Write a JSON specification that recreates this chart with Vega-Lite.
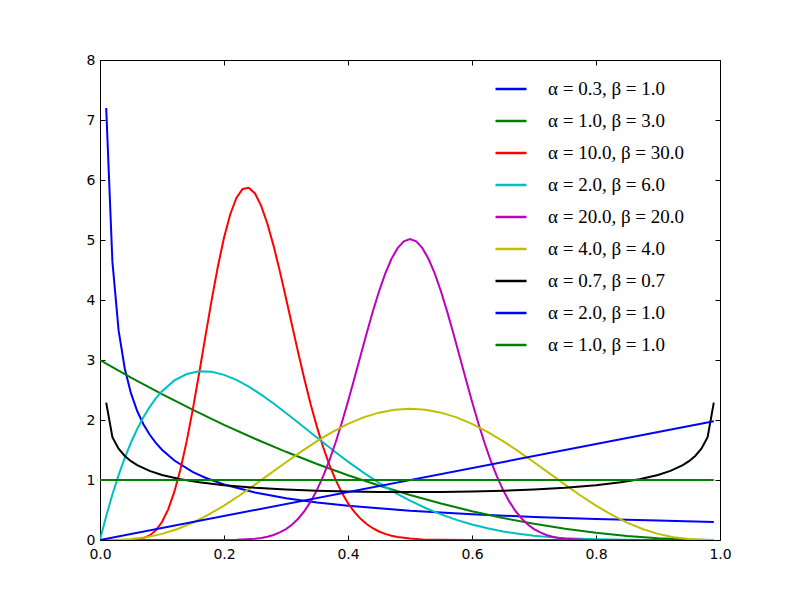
{
"$schema": "https://vega.github.io/schema/vega-lite/v6.json",
"width": 620, "height": 480,
"autosize": {"type": "none"},
"padding": {"left": 100, "top": 60, "right": 80, "bottom": 60},
"background": "white",
"config": {
 "view": {"stroke": "#000", "strokeWidth": 1},
 "axis": {"grid": false, "domain": false, "tickColor": "#000", "tickSize": -5, "labelPadding": 10, "labelFont": "DejaVu Sans", "labelFontSize": 14, "labelColor": "#000", "labelFlush": false, "title": null}
},
"data": {"values": [
{"k":0,"x":0.01,"y":7.2},{"k":0,"x":0.02,"y":4.639},{"k":0,"x":0.03,"y":3.493},{"k":0,"x":0.04,"y":2.855},{"k":0,"x":0.05,"y":2.443},{"k":0,"x":0.06,"y":2.15},{"k":0,"x":0.07,"y":1.93},{"k":0,"x":0.08,"y":1.758},{"k":0,"x":0.09,"y":1.619},{"k":0,"x":0.1,"y":1.504},{"k":0,"x":0.12,"y":1.324},{"k":0,"x":0.15,"y":1.132},{"k":0,"x":0.17,"y":1.037},{"k":0,"x":0.2,"y":0.926},{"k":0,"x":0.25,"y":0.792},{"k":0,"x":0.3,"y":0.697},{"k":0,"x":0.35,"y":0.626},{"k":0,"x":0.4,"y":0.57},{"k":0,"x":0.5,"y":0.487},{"k":0,"x":0.6,"y":0.429},{"k":0,"x":0.7,"y":0.385},{"k":0,"x":0.8,"y":0.351},{"k":0,"x":0.9,"y":0.323},{"k":0,"x":0.99,"y":0.302},
{"k":1,"x":0,"y":3},{"k":1,"x":0.05,"y":2.7075},{"k":1,"x":0.1,"y":2.43},{"k":1,"x":0.15,"y":2.1675},{"k":1,"x":0.2,"y":1.92},{"k":1,"x":0.25,"y":1.6875},{"k":1,"x":0.3,"y":1.47},{"k":1,"x":0.35,"y":1.2675},{"k":1,"x":0.4,"y":1.08},{"k":1,"x":0.45,"y":0.9075},{"k":1,"x":0.5,"y":0.75},{"k":1,"x":0.55,"y":0.6075},{"k":1,"x":0.6,"y":0.48},{"k":1,"x":0.65,"y":0.3675},{"k":1,"x":0.7,"y":0.27},{"k":1,"x":0.75,"y":0.1875},{"k":1,"x":0.8,"y":0.12},{"k":1,"x":0.85,"y":0.0675},{"k":1,"x":0.9,"y":0.03},{"k":1,"x":0.95,"y":0.0075},{"k":1,"x":0.99,"y":0.0003},
{"k":2,"x":0,"y":0},{"k":2,"x":0.02,"y":0},{"k":2,"x":0.03,"y":0.0001},{"k":2,"x":0.04,"y":0.0005},{"k":2,"x":0.05,"y":0.0028},{"k":2,"x":0.06,"y":0.0107},{"k":2,"x":0.07,"y":0.0313},{"k":2,"x":0.08,"y":0.076},{"k":2,"x":0.09,"y":0.1598},{"k":2,"x":0.1,"y":0.2995},{"k":2,"x":0.11,"y":0.5107},{"k":2,"x":0.12,"y":0.8053},{"k":2,"x":0.13,"y":1.1882},{"k":2,"x":0.14,"y":1.6555},{"k":2,"x":0.15,"y":2.194},{"k":2,"x":0.16,"y":2.7829},{"k":2,"x":0.17,"y":3.3929},{"k":2,"x":0.18,"y":3.9931},{"k":2,"x":0.19,"y":4.5513},{"k":2,"x":0.2,"y":5.0371},{"k":2,"x":0.21,"y":5.4256},{"k":2,"x":0.22,"y":5.6997},{"k":2,"x":0.23,"y":5.8497},{"k":2,"x":0.24,"y":5.8709},{"k":2,"x":0.25,"y":5.7754},{"k":2,"x":0.26,"y":5.5684},{"k":2,"x":0.27,"y":5.2714},{"k":2,"x":0.28,"y":4.9022},{"k":2,"x":0.29,"y":4.4812},{"k":2,"x":0.3,"y":4.0301},{"k":2,"x":0.31,"y":3.5665},{"k":2,"x":0.32,"y":3.1076},{"k":2,"x":0.33,"y":2.6674},{"k":2,"x":0.34,"y":2.2558},{"k":2,"x":0.35,"y":1.8812},{"k":2,"x":0.36,"y":1.5459},{"k":2,"x":0.37,"y":1.2528},{"k":2,"x":0.38,"y":1.0015},{"k":2,"x":0.39,"y":0.7895},{"k":2,"x":0.4,"y":0.614},{"k":2,"x":0.41,"y":0.4711},{"k":2,"x":0.42,"y":0.3564},{"k":2,"x":0.43,"y":0.266},{"k":2,"x":0.44,"y":0.1958},{"k":2,"x":0.45,"y":0.1421},{"k":2,"x":0.46,"y":0.1017},{"k":2,"x":0.47,"y":0.0718},{"k":2,"x":0.48,"y":0.05},{"k":2,"x":0.5,"y":0.0231},{"k":2,"x":0.52,"y":0.0101},{"k":2,"x":0.55,"y":0.0026},{"k":2,"x":0.6,"y":0.0002},{"k":2,"x":0.7,"y":0},{"k":2,"x":0.99,"y":0},
{"k":3,"x":0,"y":0},{"k":3,"x":0.01,"y":0.3994},{"k":3,"x":0.02,"y":0.7593},{"k":3,"x":0.03,"y":1.082},{"k":3,"x":0.04,"y":1.3698},{"k":3,"x":0.05,"y":1.6249},{"k":3,"x":0.06,"y":1.8494},{"k":3,"x":0.07,"y":2.0453},{"k":3,"x":0.08,"y":2.2145},{"k":3,"x":0.09,"y":2.3588},{"k":3,"x":0.1,"y":2.4801},{"k":3,"x":0.12,"y":2.6598},{"k":3,"x":0.14,"y":2.7661},{"k":3,"x":0.16,"y":2.8104},{"k":3,"x":0.18,"y":2.8028},{"k":3,"x":0.2,"y":2.7525},{"k":3,"x":0.22,"y":2.6678},{"k":3,"x":0.24,"y":2.5558},{"k":3,"x":0.26,"y":2.4231},{"k":3,"x":0.28,"y":2.2754},{"k":3,"x":0.3,"y":2.1177},{"k":3,"x":0.32,"y":1.954},{"k":3,"x":0.34,"y":1.7883},{"k":3,"x":0.36,"y":1.6235},{"k":3,"x":0.38,"y":1.4621},{"k":3,"x":0.4,"y":1.3064},{"k":3,"x":0.425,"y":1.122},{"k":3,"x":0.45,"y":0.9512},{"k":3,"x":0.475,"y":0.7957},{"k":3,"x":0.5,"y":0.6563},{"k":3,"x":0.525,"y":0.5332},{"k":3,"x":0.55,"y":0.4263},{"k":3,"x":0.575,"y":0.3349},{"k":3,"x":0.6,"y":0.258},{"k":3,"x":0.625,"y":0.1947},{"k":3,"x":0.65,"y":0.1434},{"k":3,"x":0.675,"y":0.1028},{"k":3,"x":0.7,"y":0.0714},{"k":3,"x":0.725,"y":0.0479},{"k":3,"x":0.75,"y":0.0308},{"k":3,"x":0.775,"y":0.0188},{"k":3,"x":0.8,"y":0.0108},{"k":3,"x":0.85,"y":0.0027},{"k":3,"x":0.9,"y":0.0004},{"k":3,"x":0.99,"y":0},
{"k":4,"x":0,"y":0},{"k":4,"x":0.15,"y":0},{"k":4,"x":0.2,"y":0.001},{"k":4,"x":0.22,"y":0.0039},{"k":4,"x":0.25,"y":0.0212},{"k":4,"x":0.26,"y":0.0346},{"k":4,"x":0.27,"y":0.0548},{"k":4,"x":0.28,"y":0.0841},{"k":4,"x":0.29,"y":0.1256},{"k":4,"x":0.3,"y":0.1826},{"k":4,"x":0.31,"y":0.2591},{"k":4,"x":0.32,"y":0.3589},{"k":4,"x":0.33,"y":0.4859},{"k":4,"x":0.34,"y":0.6438},{"k":4,"x":0.35,"y":0.8358},{"k":4,"x":0.36,"y":1.063},{"k":4,"x":0.37,"y":1.3265},{"k":4,"x":0.38,"y":1.6245},{"k":4,"x":0.39,"y":1.9536},{"k":4,"x":0.4,"y":2.3087},{"k":4,"x":0.41,"y":2.6821},{"k":4,"x":0.42,"y":3.0637},{"k":4,"x":0.43,"y":3.4428},{"k":4,"x":0.44,"y":3.8067},{"k":4,"x":0.45,"y":4.1423},{"k":4,"x":0.46,"y":4.4381},{"k":4,"x":0.47,"y":4.6825},{"k":4,"x":0.48,"y":4.8638},{"k":4,"x":0.49,"y":4.977},{"k":4,"x":0.5,"y":5.015},{"k":4,"x":0.51,"y":4.977},{"k":4,"x":0.52,"y":4.8638},{"k":4,"x":0.53,"y":4.6825},{"k":4,"x":0.54,"y":4.4381},{"k":4,"x":0.55,"y":4.1423},{"k":4,"x":0.56,"y":3.8067},{"k":4,"x":0.57,"y":3.4428},{"k":4,"x":0.58,"y":3.0637},{"k":4,"x":0.59,"y":2.6821},{"k":4,"x":0.6,"y":2.3087},{"k":4,"x":0.61,"y":1.9536},{"k":4,"x":0.62,"y":1.6245},{"k":4,"x":0.63,"y":1.3265},{"k":4,"x":0.64,"y":1.063},{"k":4,"x":0.65,"y":0.8358},{"k":4,"x":0.66,"y":0.6438},{"k":4,"x":0.67,"y":0.4859},{"k":4,"x":0.68,"y":0.3589},{"k":4,"x":0.69,"y":0.2591},{"k":4,"x":0.7,"y":0.1826},{"k":4,"x":0.71,"y":0.1256},{"k":4,"x":0.72,"y":0.0841},{"k":4,"x":0.73,"y":0.0548},{"k":4,"x":0.74,"y":0.0346},{"k":4,"x":0.75,"y":0.0212},{"k":4,"x":0.78,"y":0.0039},{"k":4,"x":0.8,"y":0.001},{"k":4,"x":0.85,"y":0},{"k":4,"x":0.99,"y":0},
{"k":5,"x":0,"y":0},{"k":5,"x":0.025,"y":0.002},{"k":5,"x":0.05,"y":0.015},{"k":5,"x":0.075,"y":0.0467},{"k":5,"x":0.1,"y":0.1021},{"k":5,"x":0.125,"y":0.1832},{"k":5,"x":0.15,"y":0.2902},{"k":5,"x":0.175,"y":0.4213},{"k":5,"x":0.2,"y":0.5734},{"k":5,"x":0.225,"y":0.7423},{"k":5,"x":0.25,"y":0.9229},{"k":5,"x":0.275,"y":1.1095},{"k":5,"x":0.3,"y":1.2965},{"k":5,"x":0.325,"y":1.478},{"k":5,"x":0.35,"y":1.6484},{"k":5,"x":0.375,"y":1.8025},{"k":5,"x":0.4,"y":1.9354},{"k":5,"x":0.425,"y":2.0432},{"k":5,"x":0.45,"y":2.1225},{"k":5,"x":0.475,"y":2.1711},{"k":5,"x":0.5,"y":2.1875},{"k":5,"x":0.525,"y":2.1711},{"k":5,"x":0.55,"y":2.1225},{"k":5,"x":0.575,"y":2.0432},{"k":5,"x":0.6,"y":1.9354},{"k":5,"x":0.625,"y":1.8025},{"k":5,"x":0.65,"y":1.6484},{"k":5,"x":0.675,"y":1.478},{"k":5,"x":0.7,"y":1.2965},{"k":5,"x":0.725,"y":1.1095},{"k":5,"x":0.75,"y":0.9229},{"k":5,"x":0.775,"y":0.7423},{"k":5,"x":0.8,"y":0.5734},{"k":5,"x":0.825,"y":0.4213},{"k":5,"x":0.85,"y":0.2902},{"k":5,"x":0.875,"y":0.1832},{"k":5,"x":0.9,"y":0.1021},{"k":5,"x":0.925,"y":0.0467},{"k":5,"x":0.95,"y":0.015},{"k":5,"x":0.975,"y":0.002},{"k":5,"x":0.99,"y":0.0001},
{"k":6,"x":0.01,"y":2.29},{"k":6,"x":0.02,"y":1.7131},{"k":6,"x":0.03,"y":1.5216},{"k":6,"x":0.04,"y":1.4002},{"k":6,"x":0.05,"y":1.3136},{"k":6,"x":0.06,"y":1.2476},{"k":6,"x":0.08,"y":1.1519},{"k":6,"x":0.1,"y":1.0844},{"k":6,"x":0.13,"y":1.0126},{"k":6,"x":0.16,"y":0.9615},{"k":6,"x":0.2,"y":0.9125},{"k":6,"x":0.25,"y":0.8701},{"k":6,"x":0.3,"y":0.841},{"k":6,"x":0.35,"y":0.8211},{"k":6,"x":0.4,"y":0.808},{"k":6,"x":0.45,"y":0.8006},{"k":6,"x":0.5,"y":0.7981},{"k":6,"x":0.55,"y":0.8006},{"k":6,"x":0.6,"y":0.808},{"k":6,"x":0.65,"y":0.8211},{"k":6,"x":0.7,"y":0.841},{"k":6,"x":0.75,"y":0.8701},{"k":6,"x":0.8,"y":0.9125},{"k":6,"x":0.84,"y":0.9615},{"k":6,"x":0.87,"y":1.0126},{"k":6,"x":0.9,"y":1.0844},{"k":6,"x":0.92,"y":1.1519},{"k":6,"x":0.94,"y":1.2476},{"k":6,"x":0.95,"y":1.3136},{"k":6,"x":0.96,"y":1.4002},{"k":6,"x":0.97,"y":1.5216},{"k":6,"x":0.98,"y":1.7131},{"k":6,"x":0.99,"y":2.29},
{"k":7,"x":0,"y":0},{"k":7,"x":0.99,"y":1.98},
{"k":8,"x":0,"y":1},{"k":8,"x":0.99,"y":1}
]},
"layer": [
 {
  "mark": {"type": "line", "strokeWidth": 2, "clip": true},
  "encoding": {
   "x": {"field": "x", "type": "quantitative", "scale": {"domain": [0, 1]}, "axis": {"orient": "bottom", "values": [0, 0.2, 0.4, 0.6, 0.8, 1], "format": ".1f", "labelPadding": 12}},
   "y": {"field": "y", "type": "quantitative", "scale": {"domain": [0, 8]}, "axis": {"orient": "left", "values": [0, 1, 2, 3, 4, 5, 6, 7, 8], "format": "d"}},
   "color": {"field": "k", "type": "nominal",
    "scale": {"domain": [0, 1, 2, 3, 4, 5, 6, 7, 8], "range": ["#0000ff", "#008000", "#ff0000", "#00bfbf", "#bf00bf", "#bfbf00", "#000000", "#0000ff", "#008000"]},
    "legend": {"orient": "none", "legendX": 394, "legendY": 12, "title": null, "padding": 0, "symbolType": "stroke", "symbolSize": 961, "symbolStrokeWidth": 2.5, "rowPadding": 5, "labelOffset": 20, "labelFont": "Liberation Serif", "labelFontSize": 19, "labelColor": "#000", "labelLimit": 300,
     "labelExpr": "['α = 0.3, β = 1.0','α = 1.0, β = 3.0','α = 10.0, β = 30.0','α = 2.0, β = 6.0','α = 20.0, β = 20.0','α = 4.0, β = 4.0','α = 0.7, β = 0.7','α = 2.0, β = 1.0','α = 1.0, β = 1.0'][datum.value]"}}
  }
 },
 {
  "mark": {"type": "line", "opacity": 0},
  "encoding": {
   "x": {"field": "x", "type": "quantitative", "axis": {"orient": "top", "values": [0, 0.2, 0.4, 0.6, 0.8, 1], "labels": false}},
   "y": {"field": "y", "type": "quantitative", "axis": {"orient": "right", "values": [0, 1, 2, 3, 4, 5, 6, 7, 8], "labels": false}},
   "detail": {"field": "k", "type": "nominal"}
  }
 }
],
"resolve": {"axis": {"x": "independent", "y": "independent"}}
}
